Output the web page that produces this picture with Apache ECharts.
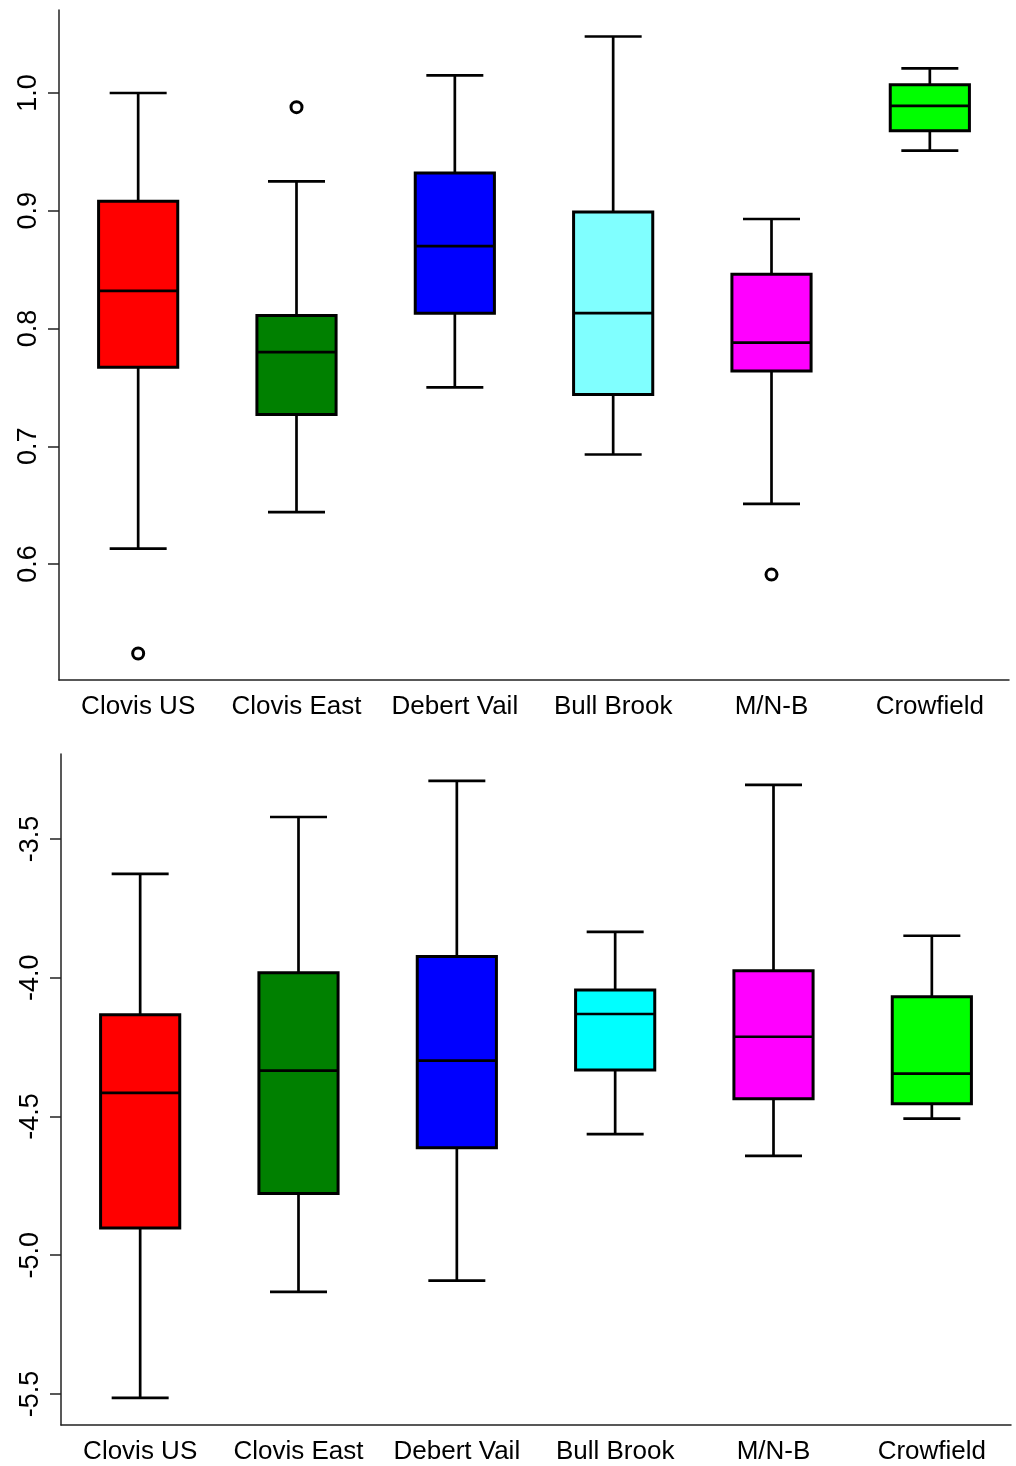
<!DOCTYPE html>
<html>
<head>
<meta charset="utf-8">
<script src="https://cdn.jsdelivr.net/npm/echarts@6/dist/echarts.min.js"></script>
<style>
  html, body { margin: 0; padding: 0; background: #fff; }
  #main { width: 1016px; height: 1466px; }
</style>
</head>
<body>
<div id="main"></div>
<script>
// categories, shared by both panels
var categories = ['Clovis US', 'Clovis East', 'Debert Vail', 'Bull Brook', 'M/N-B', 'Crowfield'];

// top panel: [lower whisker, Q1, median, Q3, upper whisker]
var topStats = [
  [0.613, 0.767, 0.832, 0.908, 1.000],
  [0.644, 0.727, 0.780, 0.811, 0.925],
  [0.750, 0.813, 0.870, 0.932, 1.015],
  [0.693, 0.744, 0.813, 0.899, 1.048],
  [0.651, 0.764, 0.788, 0.846, 0.893],
  [0.951, 0.968, 0.989, 1.007, 1.021]
];
// top outliers: [category index, value]
var topOutliers = [[0, 0.524], [1, 0.988], [4, 0.591]];
var topTicks = [0.6, 0.7, 0.8, 0.9, 1.0];
var topColors = ['#ff0000', '#008000', '#0000ff', '#80ffff', '#ff00ff', '#00ff00'];

// bottom panel
var bottomStats = [
  [-5.514, -4.902, -4.415, -4.134, -3.626],
  [-5.132, -4.778, -4.335, -3.982, -3.421],
  [-5.092, -4.613, -4.299, -3.924, -3.291],
  [-4.564, -4.333, -4.131, -4.044, -3.835],
  [-4.642, -4.436, -4.213, -3.975, -3.305],
  [-4.508, -4.454, -4.346, -4.069, -3.849]
];
var bottomTicks = [-5.5, -5.0, -4.5, -4.0, -3.5];
var bottomColors = ['#ff0000', '#008000', '#0000ff', '#00ffff', '#ff00ff', '#00ff00'];

var FONT = 'Liberation Sans, Arial, sans-serif';

// draws an R-style box: whisker, box, median, staples
function boxRenderer(colors) {
  return function (params, api) {
    var i = api.value(0);
    var band = api.size([1, 0])[0];
    var hw = band * 0.25;     // box half width
    var cw = band * 0.18;     // staple half width
    var lo = api.coord([i, api.value(1)]);
    var q1 = api.coord([i, api.value(2)]);
    var md = api.coord([i, api.value(3)]);
    var q3 = api.coord([i, api.value(4)]);
    var hi = api.coord([i, api.value(5)]);
    var x = lo[0];
    var ls = { stroke: '#000', lineWidth: 2.7 };
    return {
      type: 'group',
      children: [
        { type: 'line', shape: { x1: x, y1: hi[1], x2: x, y2: q3[1] }, style: ls },
        { type: 'line', shape: { x1: x, y1: q1[1], x2: x, y2: lo[1] }, style: ls },
        { type: 'line', shape: { x1: x - cw, y1: hi[1], x2: x + cw, y2: hi[1] }, style: ls },
        { type: 'line', shape: { x1: x - cw, y1: lo[1], x2: x + cw, y2: lo[1] }, style: ls },
        { type: 'rect', shape: { x: x - hw, y: q3[1], width: hw * 2, height: q1[1] - q3[1] },
          style: { fill: colors[i], stroke: '#000', lineWidth: 3 } },
        { type: 'line', shape: { x1: x - hw, y1: md[1], x2: x + hw, y2: md[1] }, style: ls }
      ]
    };
  };
}

function toRows(stats) {
  return stats.map(function (s, i) { return [i].concat(s); });
}

function xAxisFor(gridIndex) {
  return {
    type: 'category', gridIndex: gridIndex, data: categories,
    axisLine: { lineStyle: { color: '#222', width: 1.5 } },
    axisTick: { show: false },
    axisLabel: { color: '#000', fontSize: 26, fontFamily: FONT, margin: 14, interval: 0 },
    splitLine: { show: false }
  };
}

function yAxisFor(gridIndex, min, max, ticks) {
  return {
    type: 'value', gridIndex: gridIndex, min: min, max: max,
    axisLine: { show: true, lineStyle: { color: '#222', width: 1.5 } },
    axisTick: { show: true, length: 11, customValues: ticks, lineStyle: { color: '#222', width: 1.5 } },
    axisLabel: {
      color: '#000', fontSize: 27, fontFamily: FONT, rotate: 90, margin: 17,
      customValues: ticks,
      formatter: function (v) { return v.toFixed(1); }
    },
    splitLine: { show: false }
  };
}

var myChart = echarts.init(document.getElementById('main'));

myChart.setOption({
  animation: false,
  backgroundColor: '#fff',
  grid: [
    { left: 59, top: 10, width: 950, height: 670 },
    { left: 61, top: 754, width: 950, height: 671 }
  ],
  xAxis: [xAxisFor(0), xAxisFor(1)],
  yAxis: [
    yAxisFor(0, 0.5015, 1.0705, topTicks),
    yAxisFor(1, -5.612, -3.194, bottomTicks)
  ],
  series: [
    {
      type: 'custom', xAxisIndex: 0, yAxisIndex: 0,
      renderItem: boxRenderer(topColors),
      encode: { x: 0, y: [1, 2, 3, 4, 5] },
      data: toRows(topStats)
    },
    {
      type: 'scatter', xAxisIndex: 0, yAxisIndex: 0,
      symbol: 'circle', symbolSize: 11,
      itemStyle: { color: '#fff', borderColor: '#000', borderWidth: 3, opacity: 1 },
      data: topOutliers
    },
    {
      type: 'custom', xAxisIndex: 1, yAxisIndex: 1,
      renderItem: boxRenderer(bottomColors),
      encode: { x: 0, y: [1, 2, 3, 4, 5] },
      data: toRows(bottomStats)
    }
  ]
});
</script>
</body>
</html>
